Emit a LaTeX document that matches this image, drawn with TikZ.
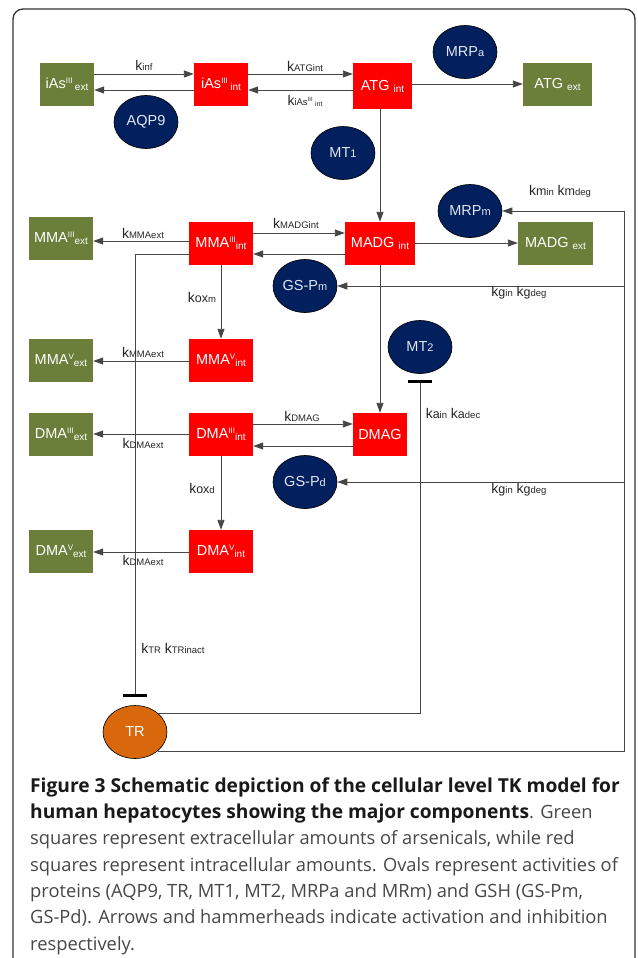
\documentclass[tikz,border=0pt]{standalone}
\usepackage{fontspec}
\setmainfont{Liberation Sans}
\newfontfamily\capfont{Open Sans}
\usetikzlibrary{shapes.geometric,arrows.meta,calc}
\definecolor{boxgreen}{RGB}{107,127,58}
\definecolor{boxred}{RGB}{255,0,0}
\definecolor{ovalblue}{RGB}{2,31,94}
\definecolor{trorange}{RGB}{217,104,12}
\definecolor{linegray}{RGB}{70,70,70}
\definecolor{ovaltext}{RGB}{225,230,240}
\newcommand\Up[1]{\raisebox{5.5pt}{\fontsize{8}{8}\selectfont #1}}
\newcommand\Dn[1]{\raisebox{-2pt}{\fontsize{10}{10}\selectfont #1}}
\newcommand\Ov[1]{{\fontsize{11}{11}\selectfont #1}}
\newcommand\Sm[1]{{\fontsize{9.5}{9.5}\selectfont #1}}
\newcommand\Md[1]{{\fontsize{12.5}{12.5}\selectfont #1}}
\newcommand\SUp[1]{\raisebox{4pt}{\fontsize{6}{6}\selectfont #1}}
\newcommand\SDn[1]{\raisebox{-1.5pt}{\fontsize{7}{7}\selectfont #1}}
\newcommand\CapB[1]{{\fontsize{19.2}{19.2}\selectfont\bfseries\color{black!90}#1}}
\begin{document}
\begin{tikzpicture}[x=1pt,y=-1pt,
  box/.style={draw=none,minimum width=64pt,minimum height=43pt,inner sep=0pt,text=white,font=\fontsize{14.5}{15}\selectfont},
  gbox/.style={box,fill=boxgreen},
  rbox/.style={box,fill=boxred},
  oval/.style={ellipse,draw=black,line width=0.6pt,fill=ovalblue,minimum width=64pt,minimum height=53pt,inner sep=0pt,text=ovaltext,font=\fontsize{14.5}{15}\selectfont},
  conn/.style={draw=linegray,line width=0.9pt,-{Triangle[length=10pt,width=7pt]}},
  plain/.style={draw=linegray,line width=0.9pt},
  hammer/.style={draw=black,line width=3pt},
  lbl/.style={inner sep=0pt,text=black!85,font=\fontsize{14}{14}\selectfont},
  capline/.style={inner sep=0pt,anchor=base west,font=\capfont\fontsize{18.3}{18.3}\selectfont,text=black!72}
]
\useasboundingbox (0,0) rectangle (637,958);
\fill[white] (0,0) rectangle (637,958);
% frame
\draw[line width=1.3pt,draw=black!80,rounded corners=10pt] (13,975) -- (13,9) -- (635,9) -- (635,975);

% row coordinates
\coordinate (y74) at (0,74);
\coordinate (y90) at (0,90);
\coordinate (y84) at (0,84);
\coordinate (y233) at (0,233);
\coordinate (y241) at (0,241);
\coordinate (y243) at (0,243);
\coordinate (y254) at (0,254);
\coordinate (y361) at (0,361);
\coordinate (y424) at (0,424);
\coordinate (y434) at (0,434);
\coordinate (y446) at (0,446);
\coordinate (y552) at (0,552);
\coordinate (rx) at (624,0);
\coordinate (hTR) at (135,695);
\coordinate (hMT) at (420,381);

% boxes
\node[gbox,minimum width=54pt] (iAsext) at (67,84.5) {iAs\Up{III}\,\Dn{ext}};
\node[rbox,minimum width=54pt] (iAsint) at (221,84.5) {iAs\Up{III}\,\Dn{int}};
\node[rbox,minimum width=59pt,minimum height=46pt] (ATGint) at (382.5,86) {ATG \Dn{int}};
\node[gbox,minimum width=69pt] (ATGext) at (557.5,84.5) {ATG \Dn{ext}};
\node[gbox] (MMA3ext) at (61,238.5) {MMA\Up{III}\Dn{ext}};
\node[rbox] (MMA3int) at (221,243.5) {MMA\Up{III}\Dn{int}};
\node[rbox,minimum width=70pt] (MADGint) at (380,243.5) {MADG \Dn{int}};
\node[gbox,minimum width=75pt] (MADGext) at (555.5,243.5) {MADG \Dn{ext}};
\node[gbox] (MMA5ext) at (61,360.5) {MMA\Up{V}\Dn{ext}};
\node[rbox] (MMA5int) at (221,360.5) {MMA\Up{V}\Dn{int}};
\node[gbox] (DMA3ext) at (61,434.5) {DMA\Up{III}\Dn{ext}};
\node[rbox] (DMA3int) at (221,434.5) {DMA\Up{III}\Dn{int}};
\node[rbox,minimum width=54pt] (DMAG) at (380,434.5) {DMAG};
\node[gbox] (DMA5ext) at (61,551.5) {DMA\Up{V}\Dn{ext}};
\node[rbox] (DMA5int) at (221,551.5) {DMA\Up{V}\Dn{int}};

% ovals
\node[oval] (AQP9) at (146,122) {AQP9};
\node[oval] (MRPa) at (465,52) {MRP\Ov{a}};
\node[oval] (MT1) at (343,153) {MT\Ov{1}};
\node[oval] (MRPm) at (470,211) {MRP\Ov{m}};
\node[oval] (GSPm) at (305,286) {GS-P\Ov{m}};
\node[oval] (MT2) at (420,347) {MT\Ov{2}};
\node[oval] (GSPd) at (305,482) {GS-P\Ov{d}};
\node[oval,fill=trorange,text=white] (TR) at (135,732) {TR};

% connectors
\draw[conn] (iAsext.east |- y74) -- (iAsint.west |- y74);
\draw[conn] (iAsint.west |- y90) -- (iAsext.east |- y90);
\draw[conn] (iAsint.east |- y74) -- (ATGint.west |- y74);
\draw[conn] (ATGint.west |- y90) -- (iAsint.east |- y90);
\draw[conn] (ATGint.east |- y84) -- (ATGext.west |- y84);
\draw[conn] (ATGint.south -| MADGint.north) -- (MADGint.north);
\draw[conn] (MMA3int.west |- y241) -- (MMA3ext.east |- y241);
\draw[conn] (MMA3int.east |- y233) -- (MADGint.west |- y233);
\draw[conn] (MADGint.west |- y254) -- (MMA3int.east |- y254);
\draw[conn] (MADGint.east |- y243) -- (MADGext.west |- y243);
\draw[conn] (MADGint.south) -- (DMAG.north);
\draw[conn] (MMA3int.south) -- (MMA5int.north);
\draw[conn] (MMA5int.west |- y361) -- (MMA5ext.east |- y361);
\draw[conn] (DMA3int.west |- y434) -- (DMA3ext.east |- y434);
\draw[conn] (DMA3int.east |- y424) -- (DMAG.west |- y424);
\draw[conn] (DMAG.west |- y446) -- (DMA3int.east |- y446);
\draw[conn] (DMA3int.south) -- (DMA5int.north);
\draw[conn] (DMA5int.west |- y552) -- (DMA5ext.east |- y552);

% inhibitions
\draw[plain] (MMA3int.west |- y254) -- (hTR |- y254) -- (hTR);
\draw[hammer] ([xshift=-12pt]hTR) -- ([xshift=12pt]hTR);
\draw[plain] (TR.40) -- (TR.40 -| hMT) -- (hMT);
\draw[hammer] ([xshift=-12pt]hMT) -- ([xshift=12pt]hMT);

% TR to right side
\draw[conn] (TR.-40) -- (TR.-40 -| rx) -- (rx |- MRPm.east) -- (MRPm.east);
\draw[conn] (rx |- GSPm.east) -- (GSPm.east);
\draw[conn] (rx |- GSPd.east) -- (GSPd.east);

% labels
\node[lbl] (Lkinf) at (144,65) {k\Sm{inf}};
\node[lbl] (LkATG) at (305,66) {k\Sm{ATGint}};
\node[lbl] (LkiAs) at (305,101) {k\Sm{iAs}\SUp{III}\,\SDn{int}};
\node[lbl] (LkMMA1) at (143,233) {k\Sm{MMAext}};
\node[lbl] (LkMADG) at (296,223) {k\Sm{MADGint}};
\node[lbl] (Loxm) at (202,297) {k\Md{ox}\Sm{m}};
\node[lbl] (LkMMA2) at (143,352) {k\Sm{MMAext}};
\node[lbl] (LkDMA1) at (143,443) {k\Sm{DMAext}};
\node[lbl] (LkDMAG) at (302,416) {k\Sm{DMAG}};
\node[lbl] (Loxd) at (202,488) {k\Md{ox}\Sm{d}};
\node[lbl] (LkDMA2) at (143,560) {k\Sm{DMAext}};
\node[lbl] (Lkm) at (560,191) {k\Md{m}\Sm{in} k\Md{m}\Sm{deg}};
\node[lbl] (Lkg1) at (519,293) {k\Md{g}\Sm{in} k\Md{g}\Sm{deg}};
\node[lbl] (Lkg2) at (519,490) {k\Md{g}\Sm{in} k\Md{g}\Sm{deg}};
\node[lbl] (Lka) at (453,413) {k\Md{a}\Sm{in} k\Md{a}\Sm{dec}};
\node[lbl] (LkTR) at (173,648) {k\Sm{TR} k\Sm{TRinact}};

% caption
\node[capline] (c1) at (30,792) {\CapB{Figure 3 Schematic depiction of the cellular level TK model for}};
\node[capline] (c2) at (30,818) {\CapB{human hepatocytes showing the major components}. Green};
\node[capline] (c3) at (30,844.5) {squares represent extracellular amounts of arsenicals, while red};
\node[capline] (c4) at (30,871) {squares represent intracellular amounts. Ovals represent activities of};
\node[capline] (c5) at (30,897) {proteins (AQP9, TR, MT1, MT2, MRPa and MRm) and GSH (GS-Pm,};
\node[capline] (c6) at (30,923.5) {GS-Pd). Arrows and hammerheads indicate activation and inhibition};
\node[capline] (c7) at (30,950) {respectively.};
\end{tikzpicture}
\end{document}
